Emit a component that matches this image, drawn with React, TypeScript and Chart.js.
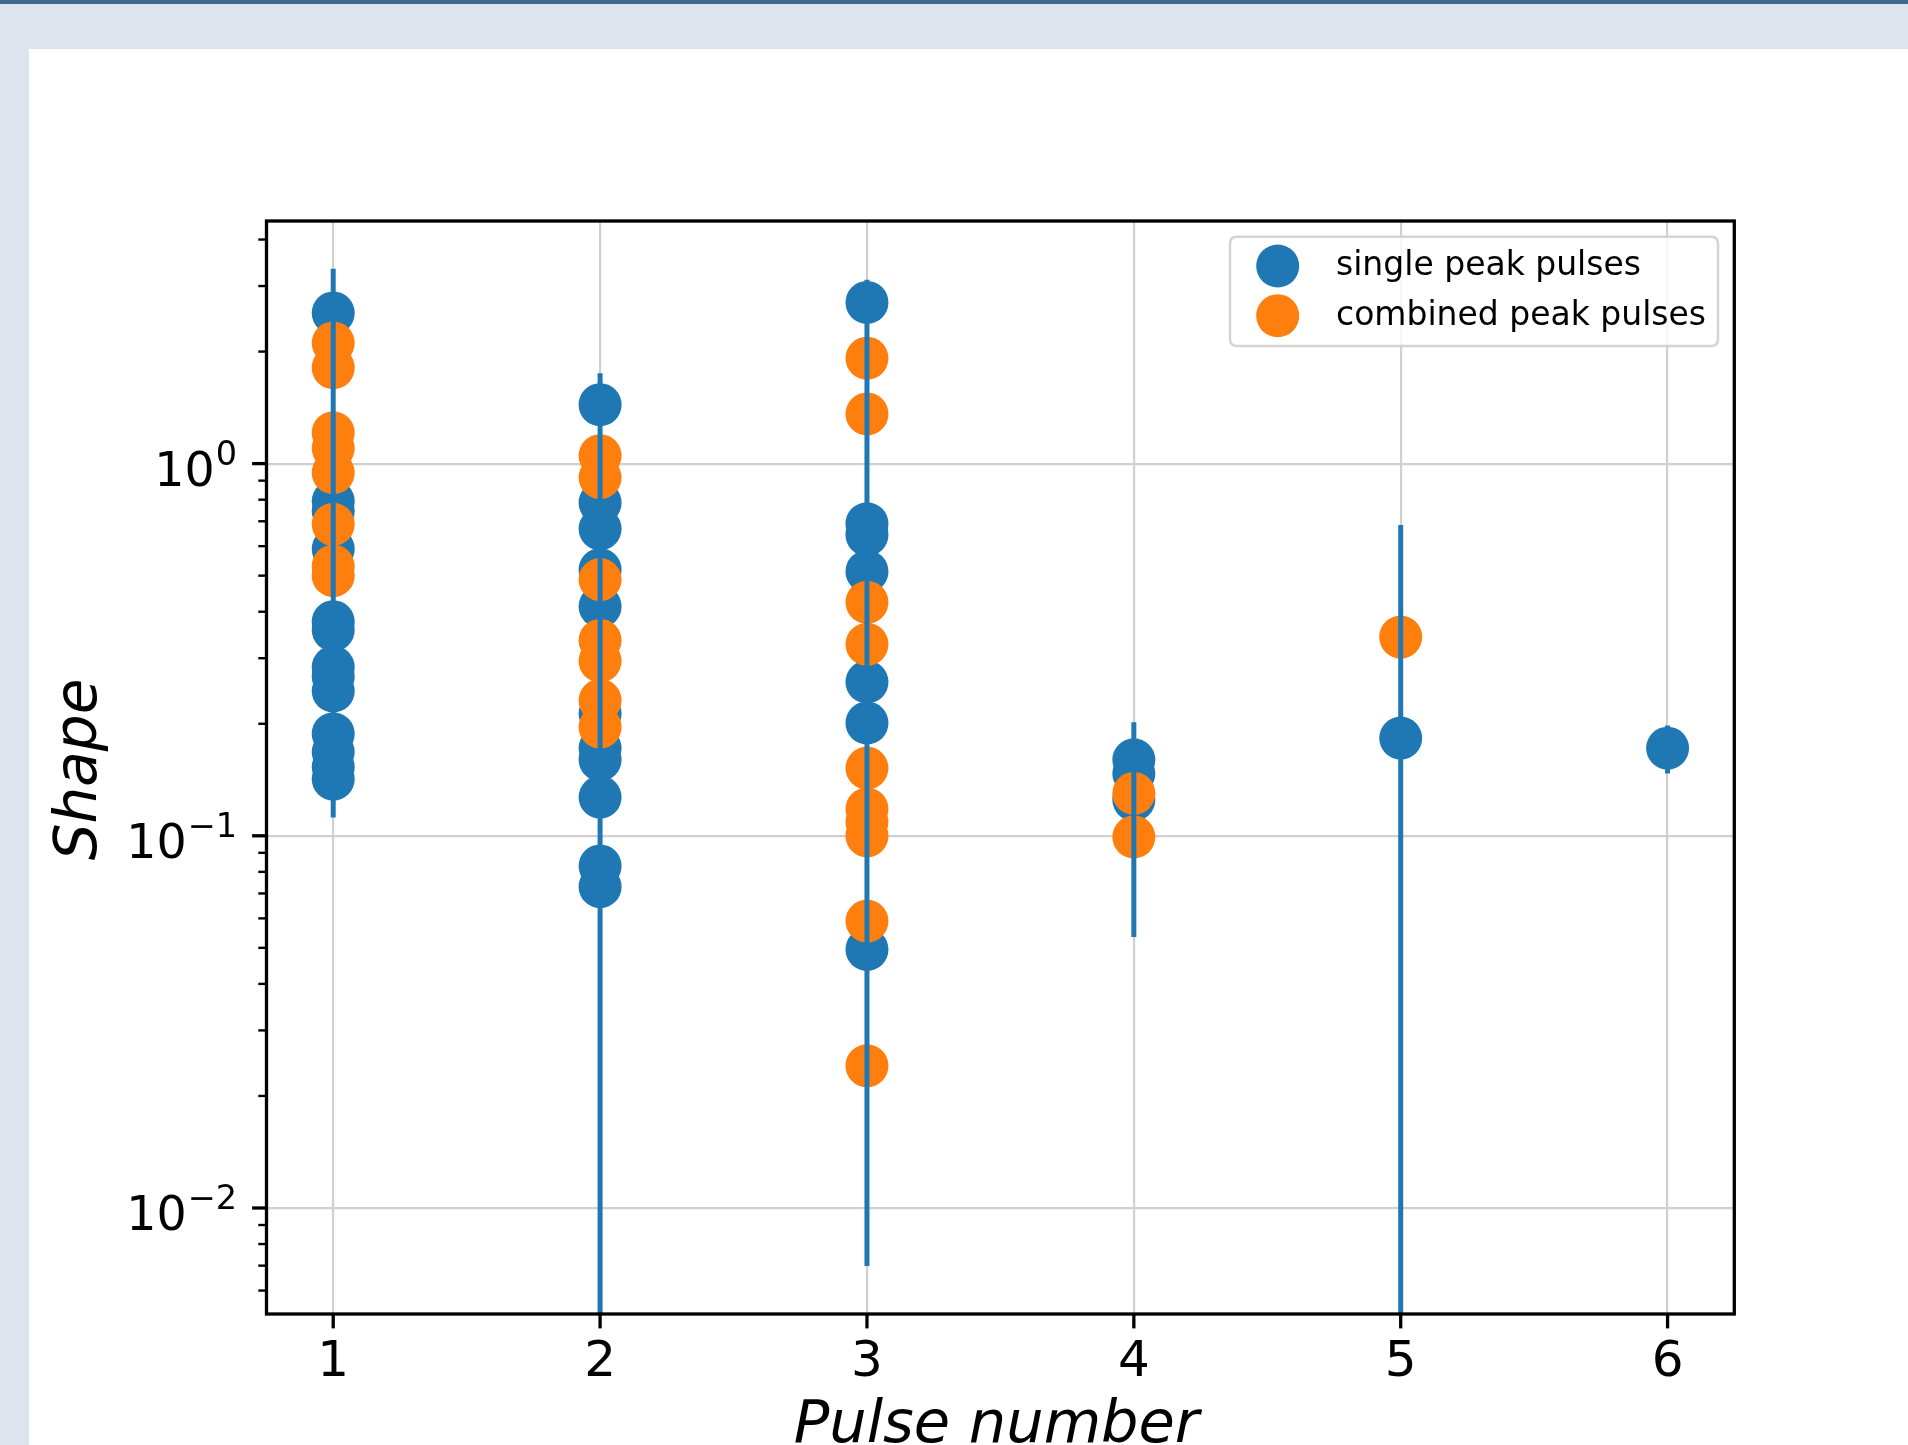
import React, { useEffect, useRef } from 'react';
import { Chart, registerables } from 'chart.js';

Chart.register(...registerables);

// ---------------- data ----------------
const singleX = [
  1, 1, 1, 1, 1, 1, 1, 1, 1, 1, 1, 1, 1,
  2, 2, 2, 2, 2, 2, 2, 2, 2, 2, 2,
  3, 3, 3, 3, 3, 3, 3,
  4, 4, 4,
  5,
  6,
];
const singleY = [
  2.54, 0.792, 0.745, 0.59, 0.376, 0.357, 0.284, 0.268, 0.245, 0.188, 0.168, 0.153, 0.142,
  1.44, 0.785, 0.668, 0.519, 0.413, 0.213, 0.172, 0.16, 0.127, 0.083, 0.073,
  2.71, 0.689, 0.644, 0.513, 0.259, 0.201, 0.0495,
  0.16, 0.147, 0.125,
  0.183,
  0.172,
];
const combinedX = [
  1, 1, 1, 1, 1, 1, 1, 1,
  2, 2, 2, 2, 2, 2, 2,
  3, 3, 3, 3, 3, 3, 3, 3, 3, 3,
  4, 4,
  5,
];
const combinedY = [
  2.11, 1.81, 1.21, 1.1, 0.945, 0.687, 0.53, 0.5,
  1.05, 0.917, 0.488, 0.335, 0.295, 0.231, 0.196,
  1.92, 1.36, 0.424, 0.327, 0.152, 0.118, 0.109, 0.1, 0.059, 0.0241,
  0.13, 0.0993,
  0.342,
];
// vertical error bars per pulse number (lower 0 = extends below the axis)
const errX = [1, 2, 3, 4, 5, 6];
const errLow = [0.112, 0, 0.00698, 0.0535, 0, 0.147];
const errHigh = [3.34, 1.75, 3.12, 0.202, 0.684, 0.198];

const xTicks = [1, 2, 3, 4, 5, 6];
const xTickLabels = ['1', '2', '3', '4', '5', '6'];
const yMajorTicks = [0.01, 0.1, 1];
const yMajorExponents = ['\u22122', '\u22121', '0'];
const yMinorTicks = [
  0.006, 0.007, 0.008, 0.009,
  0.02, 0.03, 0.04, 0.05, 0.06, 0.07, 0.08, 0.09,
  0.2, 0.3, 0.4, 0.5, 0.6, 0.7, 0.8, 0.9,
  2, 3, 4,
];
const seriesLabels = ['single peak pulses', 'combined peak pulses'];
const xTitle = 'Pulse number';
const yTitle = 'Shape';

const X_MIN = 0.75;
const X_MAX = 6.25;
const Y_MIN = 0.00519;
const Y_MAX = 4.486;

// ---------------- layout / style ----------------
const W = 1908;
const H = 1445;
const PLOT_LEFT = 266.5;
const PLOT_TOP = 221;
const PLOT_RIGHT = 1734.3;
const PLOT_BOTTOM = 1314;
const BLUE = '#1f77b4';
const ORANGE = '#ff7f0e';
const GRID = '#d0d0d0';
const FONT = '"DejaVu Sans", "Liberation Sans", sans-serif';
const MARKER_R = 21.5;

const isDecade = (v: number | undefined) => {
  if (v === undefined || v <= 0) return false;
  const l = Math.log10(v);
  return Math.abs(l - Math.round(l)) < 1e-9;
};

const overlayPlugin = {
  id: 'overlay',
  afterDraw(chart: any) {
    const { ctx, chartArea: a } = chart;
    const xs = chart.scales.x;
    const ys = chart.scales.y;
    ctx.save();

    // frame (spines)
    ctx.strokeStyle = '#000';
    ctx.lineWidth = 3.3;
    ctx.strokeRect(a.left, a.top, a.right - a.left, a.bottom - a.top);

    // x ticks + labels
    ctx.fillStyle = '#000';
    ctx.font = `50px ${FONT}`;
    ctx.textAlign = 'center';
    ctx.textBaseline = 'alphabetic';
    xTicks.forEach((v, i) => {
      const px = xs.getPixelForValue(v);
      ctx.lineWidth = 3.3;
      ctx.beginPath();
      ctx.moveTo(px, a.bottom);
      ctx.lineTo(px, a.bottom + 14.4);
      ctx.stroke();
      ctx.fillText(xTickLabels[i], px, a.bottom + 62);
    });

    // y minor ticks
    yMinorTicks.forEach((v) => {
      if (v < Y_MIN || v > Y_MAX) return;
      const py = ys.getPixelForValue(v);
      ctx.lineWidth = 2.4;
      ctx.beginPath();
      ctx.moveTo(a.left - 8.2, py);
      ctx.lineTo(a.left, py);
      ctx.stroke();
    });
    // y major ticks + labels (10^n)
    yMajorTicks.forEach((v, i) => {
      const py = ys.getPixelForValue(v);
      ctx.lineWidth = 3.3;
      ctx.beginPath();
      ctx.moveTo(a.left - 14.4, py);
      ctx.lineTo(a.left, py);
      ctx.stroke();
      const rightX = a.left - 29.5;
      ctx.textAlign = 'right';
      ctx.font = `33.5px ${FONT}`;
      const expW = ctx.measureText(yMajorExponents[i]).width;
      ctx.fillText(yMajorExponents[i], rightX, py + 1.5);
      ctx.font = `47.5px ${FONT}`;
      ctx.fillText('10', rightX - expW - 1, py + 22.5);
    });

    // axis titles
    ctx.font = `italic 59px ${FONT}`;
    ctx.textAlign = 'center';
    ctx.textBaseline = 'alphabetic';
    ctx.fillText(xTitle, (a.left + a.right) / 2 - 4, 1442);
    ctx.save();
    ctx.font = `italic 58px ${FONT}`;
    ctx.translate(96, (a.top + a.bottom) / 2 + 2);
    ctx.rotate(-Math.PI / 2);
    ctx.fillText(yTitle, 0, 0);
    ctx.restore();

    // legend
    const lx = 1230, ly = 236.7, lw = 488, lh = 109.3, r = 7;
    ctx.beginPath();
    ctx.moveTo(lx + r, ly);
    ctx.lineTo(lx + lw - r, ly);
    ctx.quadraticCurveTo(lx + lw, ly, lx + lw, ly + r);
    ctx.lineTo(lx + lw, ly + lh - r);
    ctx.quadraticCurveTo(lx + lw, ly + lh, lx + lw - r, ly + lh);
    ctx.lineTo(lx + r, ly + lh);
    ctx.quadraticCurveTo(lx, ly + lh, lx, ly + lh - r);
    ctx.lineTo(lx, ly + r);
    ctx.quadraticCurveTo(lx, ly, lx + r, ly);
    ctx.closePath();
    ctx.fillStyle = 'rgba(255,255,255,0.8)';
    ctx.fill();
    ctx.strokeStyle = 'rgba(204,204,204,0.85)';
    ctx.lineWidth = 2.5;
    ctx.stroke();

    const rows = [266, 315.7];
    chart.data.datasets.slice(0, 2).forEach((ds: any, i: number) => {
      ctx.fillStyle = ds.backgroundColor;
      ctx.beginPath();
      ctx.arc(1277.7, rows[i], MARKER_R, 0, Math.PI * 2);
      ctx.fill();
      ctx.fillStyle = '#000';
      ctx.font = `33px ${FONT}`;
      ctx.textAlign = 'left';
      ctx.textBaseline = 'alphabetic';
      ctx.fillText(ds.label, 1336, rows[i] + 9);
    });

    ctx.restore();
  },
};

export default function App() {
  const ref = useRef<HTMLCanvasElement>(null);

  useEffect(() => {
    document.body.style.margin = '0';
    const canvas = ref.current;
    if (!canvas) return;

    const pts = (xs: number[], ys: number[]) => xs.map((x, i) => ({ x, y: ys[i] }));

    const errDatasets = errX.map((x, i) => ({
      type: 'line' as const,
      label: `err-${x}`,
      data: [
        { x, y: errLow[i] > 0 ? errLow[i] : Y_MIN },
        { x, y: errHigh[i] },
      ],
      showLine: true,
      borderColor: BLUE,
      backgroundColor: BLUE,
      borderWidth: 5,
      pointRadius: 0,
      pointHoverRadius: 0,
      clip: 0,
      order: 1,
    }));

    const chart = new Chart(canvas, {
      type: 'scatter',
      data: {
        datasets: [
          {
            label: seriesLabels[0],
            data: pts(singleX, singleY),
            backgroundColor: BLUE,
            borderColor: BLUE,
            pointRadius: MARKER_R,
            pointHoverRadius: MARKER_R,
            pointBorderWidth: 0,
            order: 3,
          },
          {
            label: seriesLabels[1],
            data: pts(combinedX, combinedY),
            backgroundColor: ORANGE,
            borderColor: ORANGE,
            pointRadius: MARKER_R,
            pointHoverRadius: MARKER_R,
            pointBorderWidth: 0,
            order: 2,
          },
          ...(errDatasets as any[]),
        ],
      },
      options: {
        animation: false,
        responsive: false,
        events: [],
        layout: {
          padding: {
            left: PLOT_LEFT,
            top: PLOT_TOP,
            right: W - PLOT_RIGHT,
            bottom: H - PLOT_BOTTOM,
          },
        },
        plugins: {
          legend: { display: false },
          tooltip: { enabled: false },
        },
        scales: {
          x: {
            type: 'linear',
            min: X_MIN,
            max: X_MAX,
            afterBuildTicks: (s: any) => {
              s.ticks = xTicks.map((v) => ({ value: v }));
            },
            afterFit: (s: any) => {
              s.height = 0;
            },
            ticks: { display: false },
            grid: { color: GRID, lineWidth: 2.2, drawTicks: false },
            border: { display: false },
          },
          y: {
            type: 'logarithmic',
            min: Y_MIN,
            max: Y_MAX,
            afterBuildTicks: (s: any) => {
              s.ticks = [...yMinorTicks, ...yMajorTicks]
                .filter((v) => v >= Y_MIN && v <= Y_MAX)
                .sort((p, q) => p - q)
                .map((v) => ({ value: v, major: isDecade(v) }));
            },
            afterFit: (s: any) => {
              s.width = 0;
            },
            ticks: { display: false },
            grid: {
              color: (c: any) => (isDecade(c.tick && c.tick.value) ? GRID : 'rgba(0,0,0,0)'),
              lineWidth: 2.2,
              drawTicks: false,
            },
            border: { display: false },
          },
        },
      } as any,
      plugins: [overlayPlugin],
    });

    return () => chart.destroy();
  }, []);

  return (
    <div
      style={{
        position: 'fixed',
        left: 0,
        top: 0,
        width: W,
        height: H,
        background: '#dde4ee',
        overflow: 'hidden',
      }}
    >
      <div style={{ position: 'absolute', left: 0, top: 0, width: W, height: 4, background: '#3f6891' }} />
      <div style={{ position: 'absolute', left: 29, top: 49, right: 0, bottom: 0, background: '#ffffff' }} />
      <canvas
        ref={ref}
        width={W}
        height={H}
        style={{ position: 'absolute', left: 0, top: 0, width: W, height: H }}
      />
    </div>
  );
}
